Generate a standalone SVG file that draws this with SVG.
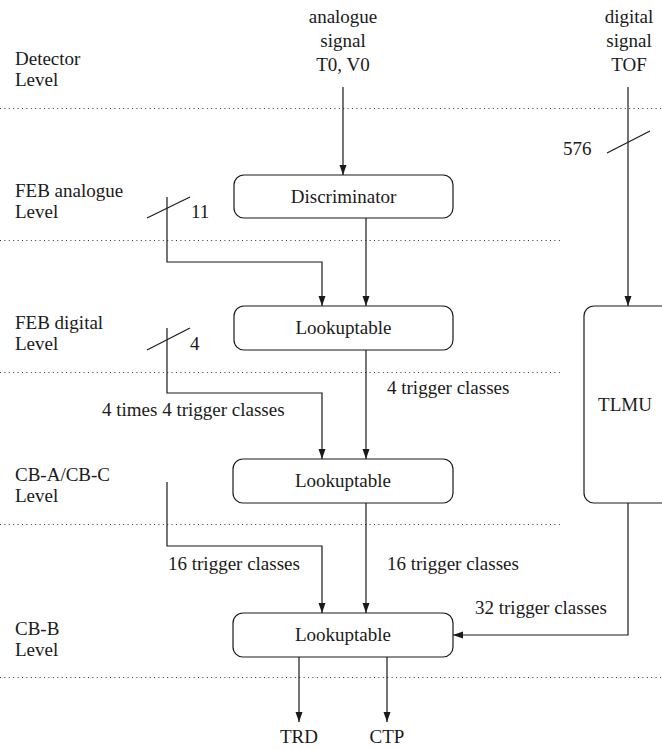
<svg xmlns="http://www.w3.org/2000/svg" width="662" height="749" viewBox="0 0 662 749">
  <defs>
    <marker id="arrow" markerUnits="userSpaceOnUse" markerWidth="10" markerHeight="8" refX="10" refY="4" orient="auto">
      <path d="M0,0.5 L10,4 L0,7.5 z" fill="#1a1a1a"/>
    </marker>
  </defs>

  <rect width="662" height="749" fill="#ffffff"/>

  <!-- level separators -->
  <g id="levels" fill="none" stroke="#333333" stroke-width="1.1" stroke-dasharray="1 3.4">
    <line x1="0" y1="108.5" x2="662" y2="108.5"/>
    <line x1="0" y1="240.5" x2="562" y2="240.5"/>
    <line x1="0" y1="372.5" x2="562" y2="372.5"/>
    <line x1="0" y1="524.5" x2="562" y2="524.5"/>
    <line x1="0" y1="677.5" x2="662" y2="677.5"/>
  </g>

  <!-- connectors -->
  <g id="connectors" fill="none" stroke="#1a1a1a" stroke-width="1.2">
    <line x1="343" y1="87" x2="343" y2="175" marker-end="url(#arrow)"/>
    <line x1="628" y1="87" x2="628" y2="306" marker-end="url(#arrow)"/>

    <line x1="366" y1="218" x2="366" y2="306" marker-end="url(#arrow)"/>
    <polyline points="167,197 167,262 322,262 322,306" marker-end="url(#arrow)"/>

    <line x1="366" y1="350" x2="366" y2="459" marker-end="url(#arrow)"/>
    <polyline points="167,328 167,393 322,393 322,459" marker-end="url(#arrow)"/>

    <line x1="366" y1="503" x2="366" y2="613" marker-end="url(#arrow)"/>
    <polyline points="167,482 167,546 322,546 322,613" marker-end="url(#arrow)"/>

    <polyline points="628,503 628,635 453,635" marker-end="url(#arrow)"/>

    <line x1="299" y1="657" x2="299" y2="722" marker-end="url(#arrow)"/>
    <line x1="387" y1="657" x2="387" y2="722" marker-end="url(#arrow)"/>

    <!-- bus width ticks -->
    <line x1="147" y1="218" x2="190" y2="197"/>
    <line x1="147" y1="350" x2="190" y2="328"/>
    <line x1="607" y1="153" x2="650" y2="131"/>
  </g>

  <!-- level names -->
  <g id="level-labels" font-family="Liberation Serif" font-size="19" fill="#1a1a1a">
    <text x="15" y="65">Detector</text>
    <text x="15" y="86">Level</text>
    <text x="15" y="197">FEB analogue</text>
    <text x="15" y="218">Level</text>
    <text x="15" y="329">FEB digital</text>
    <text x="15" y="350">Level</text>
    <text x="15" y="481">CB-A/CB-C</text>
    <text x="15" y="502">Level</text>
    <text x="15" y="635">CB-B</text>
    <text x="15" y="656">Level</text>
  </g>

  <!-- signal sources -->
  <g id="analogue-signal" font-family="Liberation Serif" font-size="19" fill="#1a1a1a" text-anchor="middle">
    <text x="343" y="23">analogue</text>
    <text x="343" y="47">signal</text>
    <text x="343" y="71">T0, V0</text>
  </g>
  <g id="digital-signal" font-family="Liberation Serif" font-size="19" fill="#1a1a1a" text-anchor="middle">
    <text x="629" y="23">digital</text>
    <text x="629" y="47">signal</text>
    <text x="629" y="71">TOF</text>
  </g>

  <!-- processing nodes -->
  <g id="discriminator">
    <rect x="234" y="175" width="219" height="43" rx="10" fill="#ffffff" stroke="#1a1a1a" stroke-width="1.2"/>
    <text x="343.5" y="203" font-family="Liberation Serif" font-size="19" fill="#1a1a1a" text-anchor="middle">Discriminator</text>
  </g>
  <g id="lut-feb">
    <rect x="234" y="306" width="219" height="44" rx="10" fill="#ffffff" stroke="#1a1a1a" stroke-width="1.2"/>
    <text x="343.5" y="334" font-family="Liberation Serif" font-size="19" fill="#1a1a1a" text-anchor="middle">Lookuptable</text>
  </g>
  <g id="lut-cba">
    <rect x="233" y="459" width="220" height="44" rx="10" fill="#ffffff" stroke="#1a1a1a" stroke-width="1.2"/>
    <text x="343" y="487" font-family="Liberation Serif" font-size="19" fill="#1a1a1a" text-anchor="middle">Lookuptable</text>
  </g>
  <g id="lut-cbb">
    <rect x="233" y="613" width="220" height="44" rx="10" fill="#ffffff" stroke="#1a1a1a" stroke-width="1.2"/>
    <text x="343" y="641" font-family="Liberation Serif" font-size="19" fill="#1a1a1a" text-anchor="middle">Lookuptable</text>
  </g>
  <g id="tlmu">
    <rect x="584" y="306" width="100" height="197" rx="10" fill="#ffffff" stroke="#1a1a1a" stroke-width="1.2"/>
    <text x="625" y="411" font-family="Liberation Serif" font-size="19" fill="#1a1a1a" text-anchor="middle">TLMU</text>
  </g>

  <!-- outputs -->
  <g id="trd"><text x="299" y="743" font-family="Liberation Serif" font-size="19" fill="#1a1a1a" text-anchor="middle">TRD</text></g>
  <g id="ctp"><text x="387" y="743" font-family="Liberation Serif" font-size="19" fill="#1a1a1a" text-anchor="middle">CTP</text></g>

  <!-- connector labels -->
  <g id="connector-labels" font-family="Liberation Serif" font-size="19" fill="#1a1a1a">
    <text x="191" y="218">11</text>
    <text x="190" y="350">4</text>
    <text x="563" y="155">576</text>
    <text x="387" y="394">4 trigger classes</text>
    <text x="102" y="416">4 times 4 trigger classes</text>
    <text x="168" y="570">16 trigger classes</text>
    <text x="387" y="570">16 trigger classes</text>
    <text x="475" y="614">32 trigger classes</text>
  </g>
</svg>
